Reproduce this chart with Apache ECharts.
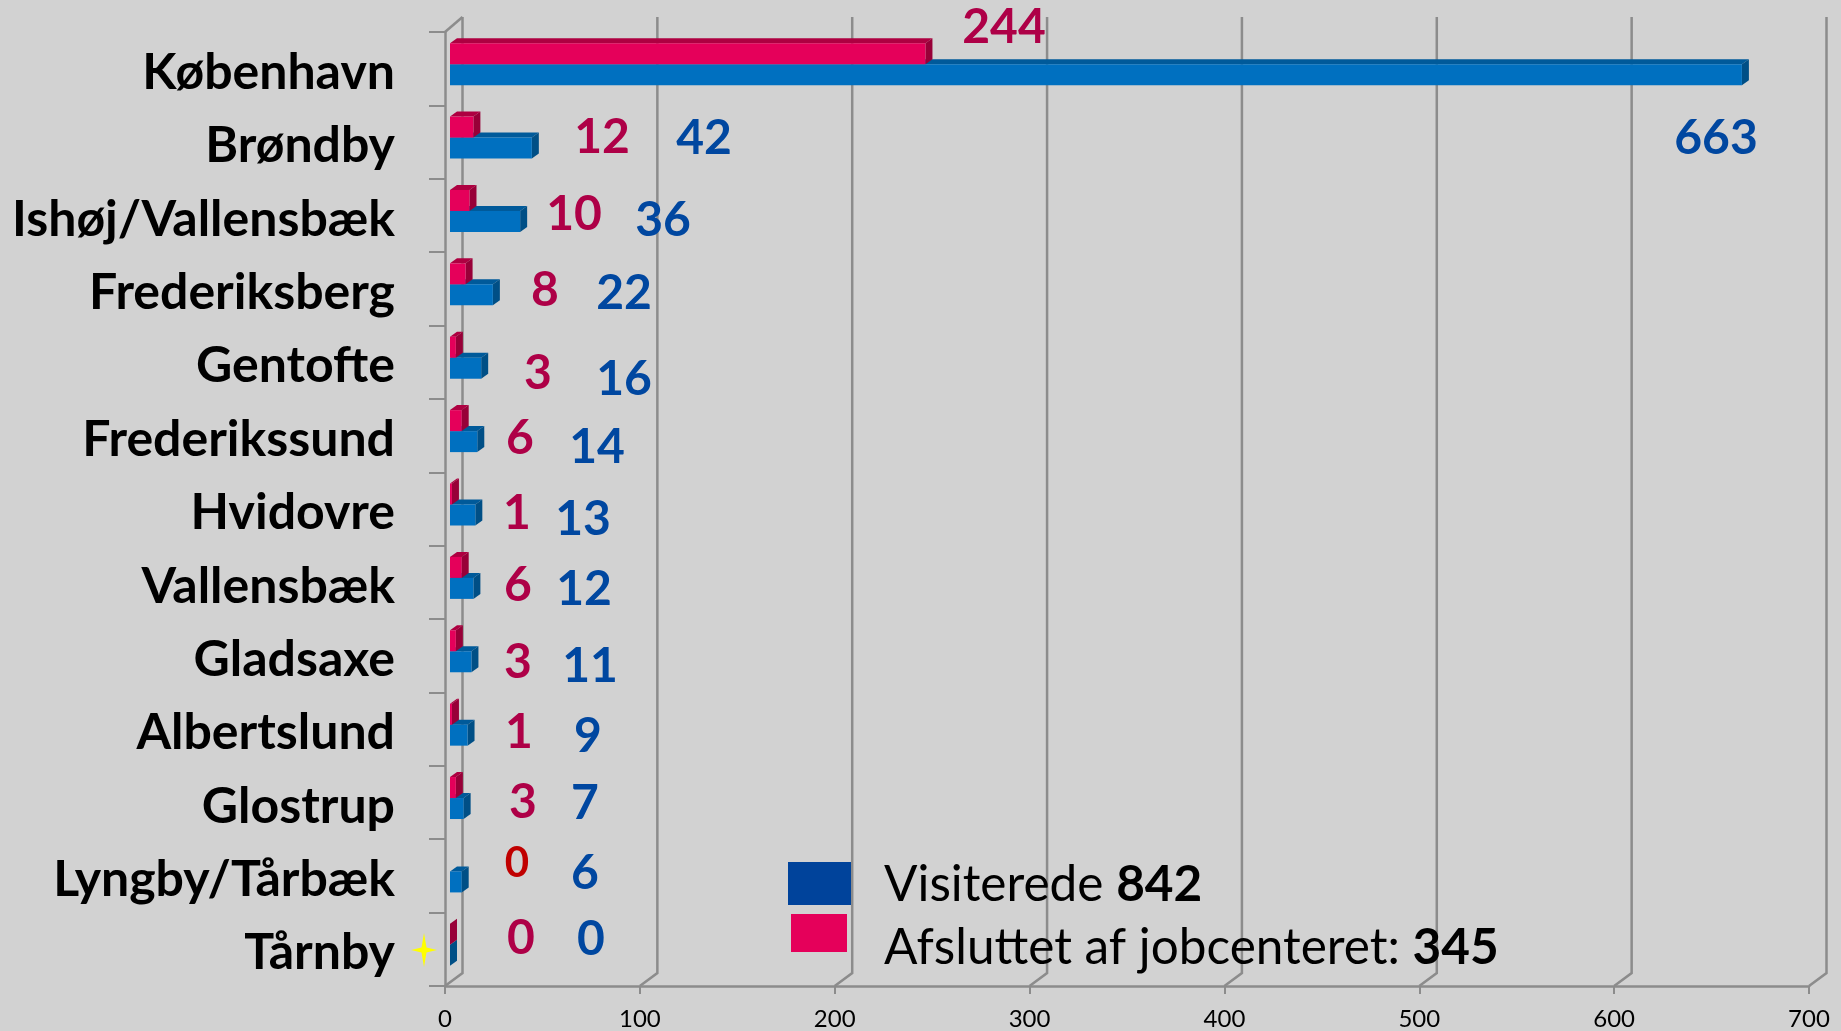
<!DOCTYPE html>
<html>
<head>
<meta charset="utf-8">
<style>
  html, body { margin: 0; padding: 0; background: #d2d2d2; }
  #chart { width: 1841px; height: 1031px; }
</style>
<script src="https://cdn.jsdelivr.net/npm/echarts@6/dist/echarts.min.js"></script>
</head>
<body>
<div id="chart"></div>
<script>
var kommuner = ['København', 'Brøndby', 'Ishøj/Vallensbæk', 'Frederiksberg', 'Gentofte', 'Frederikssund', 'Hvidovre', 'Vallensbæk', 'Gladsaxe', 'Albertslund', 'Glostrup', 'Lyngby/Tårbæk', 'Tårnby'];
var visiterede = [663, 42, 36, 22, 16, 14, 13, 12, 11, 9, 7, 6, 0];
// Lyngby har ingen bjælke i originalen (kun tallet 0), derfor null
var afsluttet = [244, 12, 10, 8, 3, 6, 1, 6, 3, 1, 3, null, 0];
var xTicks = [0, 100, 200, 300, 400, 500, 600, 700];

// tallene er placeret i haanden i originalen, midtpunkter i pixels
var visiteredePos = [[1716, 139], [704, 139], [663, 221], [624, 294], [624, 380], [597, 448], [583, 520], [584, 590], [590, 667], [588, 737], [585, 804], [585, 874], [591, 940]];
var afsluttetPos = [[1004, 28], [602, 138], [574, 215], [545, 291], [538, 374], [520, 439], [517, 514], [518, 586], [518, 663], [519, 733], [523, 803], [517, 863], [521, 939]];

var FONT = 'Lato';
var GREY = '#8c8c8c';
var DEPTH_X = 17.5, DEPTH_Y = 13;    // dybde paa 3D-vaeggen
var BAR_X = 5, BAR_W = 7, BAR_D = 5;

function barItem(colors, top, bottom) {
  return function (params, api) {
    var v = api.value(0);
    if (isNaN(v)) return null;
    var pt = api.coord([v, api.value(1)]);
    var x0 = api.coord([0, api.value(1)])[0] + BAR_X;
    var x1 = pt[0] + BAR_X;
    var y0 = pt[1] + top, y1 = pt[1] + bottom;
    return {
      type: 'group',
      children: [
        { type: 'polygon', shape: { points: [[x0, y0], [x0 + BAR_W, y0 - BAR_D], [x1 + BAR_W, y0 - BAR_D], [x1, y0]] }, style: { fill: colors[1] } },
        { type: 'polygon', shape: { points: [[x1, y0], [x1 + BAR_W, y0 - BAR_D], [x1 + BAR_W, y1 - BAR_D], [x1, y1]] }, style: { fill: colors[2] } },
        { type: 'rect', shape: { x: x0, y: y0, width: x1 - x0, height: y1 - y0 }, style: { fill: colors[0] } }
      ]
    };
  };
}

function wallItem(params, api) {
  var x = api.coord([api.value(0), 0])[0];
  var top = params.coordSys.y, bottom = top + params.coordSys.height;
  var children = [{
    type: 'polyline',
    shape: { points: [[x, bottom], [x + DEPTH_X, bottom - DEPTH_Y], [x + DEPTH_X, top - 15]] },
    style: { stroke: GREY, lineWidth: 2.5, fill: null }
  }];
  if (api.value(0) === 0) {
    children.push({
      type: 'polyline',
      shape: { points: [[x, top], [x + DEPTH_X, top - 15]] },
      style: { stroke: GREY, lineWidth: 2.5, fill: null }
    });
  }
  return { type: 'group', children: children };
}

function valueText(values, pos, color) {
  return values.map(function (v, i) {
    return {
      type: 'text', x: pos[i][0], y: pos[i][1], z: 20,
      style: {
        text: String(v === null ? 0 : v),
        fill: (v === null) ? '#c00000' : color,
        font: 'bold ' + (v === null ? 42 : 48) + 'px ' + FONT,
        align: 'center', verticalAlign: 'middle'
      }
    };
  });
}

var graphics = [].concat(
  valueText(visiterede, visiteredePos, '#0047a0'),
  valueText(afsluttet, afsluttetPos, '#ae0047'),
  [
    { type: 'rect', z: 20, shape: { x: 788, y: 862, width: 63, height: 43 }, style: { fill: '#00439b' } },
    { type: 'rect', z: 20, shape: { x: 791, y: 914, width: 56, height: 38 }, style: { fill: '#e5005a' } },
    {
      type: 'text', x: 884, y: 885, z: 20,
      style: {
        text: 'Visiterede {b|842}',
        font: '49.5px ' + FONT, fill: '#000', verticalAlign: 'middle',
        rich: { b: { font: 'bold 49.5px ' + FONT, fill: '#000' } }
      }
    },
    {
      type: 'text', x: 884, y: 948, z: 20,
      style: {
        text: 'Afsluttet af jobcenteret: {b|345}',
        font: '49.5px ' + FONT, fill: '#000', verticalAlign: 'middle',
        rich: { b: { font: 'bold 49.5px ' + FONT, fill: '#000' } }
      }
    },
    // gul stjerne ved Taarnby
    {
      type: 'polygon', z: 20,
      shape: { points: [[424, 933], [426.5, 947.5], [437, 950], [426.5, 952.5], [424, 967], [421.5, 952.5], [411, 950], [421.5, 947.5]] },
      style: { fill: '#ffff00' }
    }
  ]
);

var myChart = echarts.init(document.getElementById('chart'));
var option = {
  backgroundColor: '#d2d2d2',
  animation: false,
  grid: { left: 445, right: 32, top: 32, bottom: 44 },
  xAxis: {
    type: 'value',
    min: 0,
    max: 700,
    interval: 100,
    axisLine: { show: true, lineStyle: { color: GREY, width: 2.5 } },
    axisTick: { show: true, length: 8, lineStyle: { color: GREY, width: 2 } },
    axisLabel: { color: '#000', fontFamily: FONT, fontSize: 24, margin: 21 },
    splitLine: { show: false }
  },
  yAxis: {
    type: 'category',
    inverse: true,
    data: kommuner,
    axisLine: { show: true, lineStyle: { color: GREY, width: 2.5 } },
    axisTick: { show: true, length: 16, lineStyle: { color: GREY, width: 2 } },
    axisLabel: {
      interval: 0,
      margin: 50,
      formatter: '{a|{value}}',
      rich: {
        // lidt top-padding saa teksten sidder lavere i baandet
        a: { color: '#000', fontFamily: FONT, fontWeight: 'bold', fontSize: 50, padding: [8, 0, 0, 0] }
      }
    }
  },
  series: [
    { name: 'vaeg', type: 'custom', z: 1, renderItem: wallItem, encode: { x: 0 }, data: xTicks.map(function (v) { return [v]; }) },
    {
      name: 'Visiterede', type: 'custom', z: 2,
      renderItem: barItem(['#0070c0', '#005a9a', '#004f86'], -4.5, 16.5),
      encode: { x: 0, y: 1 },
      data: visiterede.map(function (v, i) { return [v, i]; })
    },
    {
      name: 'Afsluttet af jobcenteret', type: 'custom', z: 3,
      renderItem: barItem(['#e5005a', '#ae0041', '#980038'], -25.5, -4.5),
      encode: { x: 0, y: 1 },
      data: afsluttet.map(function (v, i) { return [v, i]; })
    }
  ],
  graphic: graphics
};
myChart.setOption(option);
</script>
</body>
</html>
